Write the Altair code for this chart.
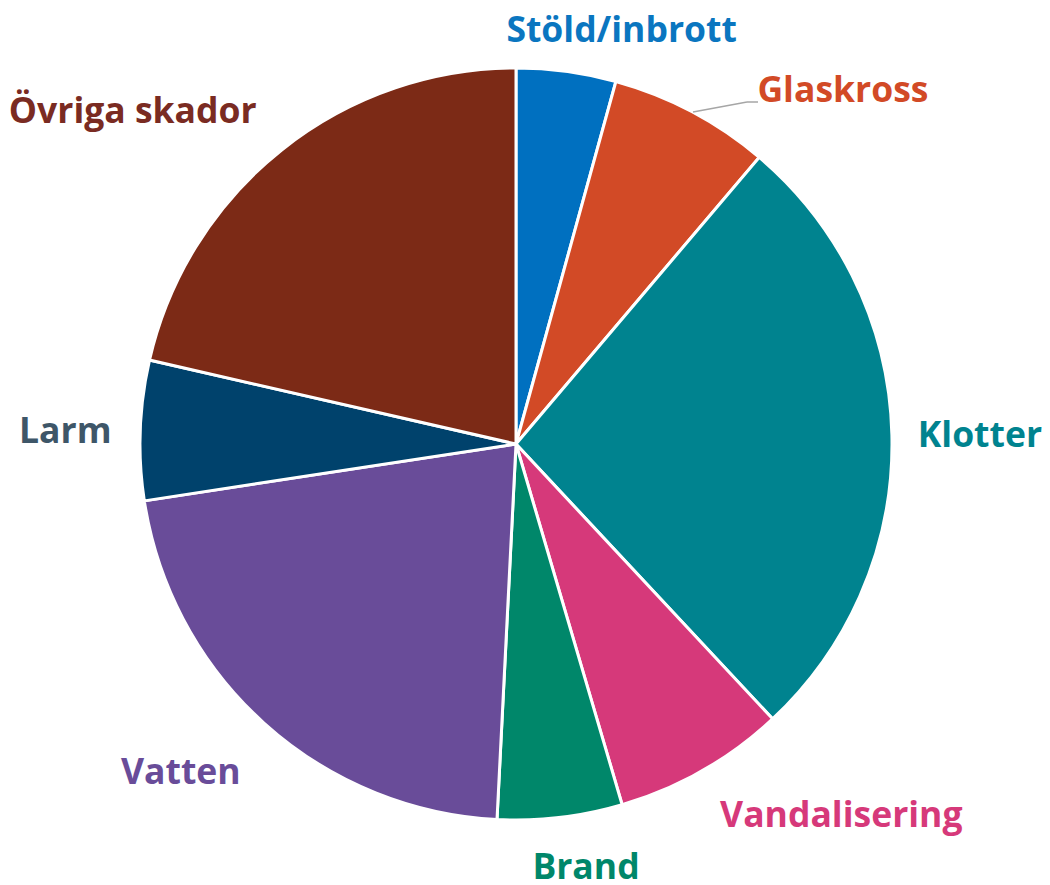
import altair as alt
import pandas as pd

categories = ["Stöld/inbrott", "Glaskross", "Klotter", "Vandalisering", "Brand", "Vatten", "Larm", "Övriga skador"]
values = [4.28, 6.92, 26.85, 7.40, 5.36, 21.78, 6.00, 21.42]
slice_colors = ["#0070C0", "#D24A26", "#00838F", "#D6397A", "#00876A", "#694C99", "#00426C", "#7C2A16"]
label_colors = ["#0A76C0", "#D24A26", "#00838F", "#D6397A", "#00876A", "#694C99", "#3E5668", "#7A2B22"]
# label offsets (dx, dy) from the slice's mid-angle anchor
label_offsets = [(52, -6), (140, 12), (64, 12), (127, 36), (23, 38), (-67, 43), (-51, 14), (-134, -8)]

df = pd.DataFrame({"cat": categories, "value": values, "idx": list(range(len(categories)))})

CX, CY, R = 508, 436, 376
FONT = "Open Sans"

base = alt.Chart(df).encode(
    theta=alt.Theta("value:Q", stack=True),
    order=alt.Order("idx:Q", sort="ascending"),
    x=alt.value(CX),
    y=alt.value(CY),
)

pie = base.mark_arc(outerRadius=R, stroke="white", strokeWidth=3).encode(
    color=alt.Color("cat:N", scale=alt.Scale(domain=categories, range=slice_colors), legend=None)
)

layers = [pie]
for c, col, (dx, dy) in zip(categories, label_colors, label_offsets):
    layers.append(
        base.mark_text(
            radius=400, dx=dx, dy=dy, font=FONT, fontSize=35.5, fontWeight="bold",
            color=col, align="center", baseline="alphabetic"
        ).encode(text=alt.condition(alt.datum.cat == c, "cat:N", alt.value("")))
    )

# leader line for Glaskross
leader1 = alt.Chart(df.head(1)).mark_rule(color="#A6A6A6", strokeWidth=1.5).encode(
    x=alt.value(685), y=alt.value(104), x2=alt.value(739), y2=alt.value(94)
)
leader2 = alt.Chart(df.head(1)).mark_rule(color="#A6A6A6", strokeWidth=1.5).encode(
    x=alt.value(739), y=alt.value(94), x2=alt.value(750), y2=alt.value(94)
)
layers += [leader1, leader2]

chart = alt.layer(*layers).properties(
    width=1034, height=873, padding=0, autosize="none", background="white"
).configure_view(strokeWidth=0)

chart.save("out.html", embed_options={"renderer": "svg", "actions": False})
